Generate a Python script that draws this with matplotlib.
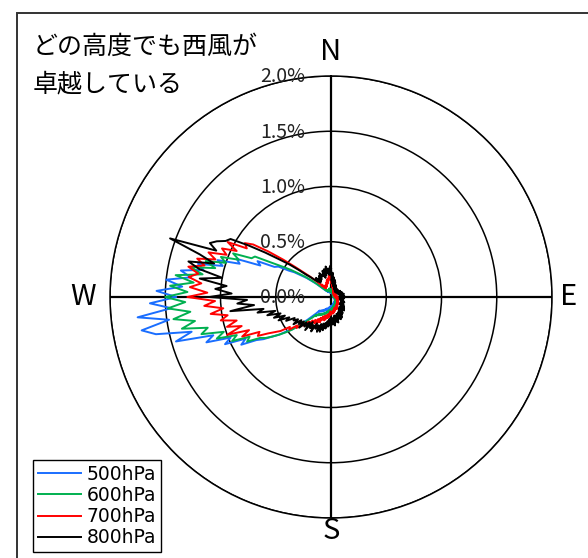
import numpy as np
import matplotlib.pyplot as plt
from matplotlib.transforms import offset_copy
from matplotlib.patches import Rectangle

plt.rcParams['font.family'] = ['Noto Sans CJK JP', 'DejaVu Sans']

# ----------------------------------------------------------------------
# data: frequency (%) per 2-degree wind direction bin, 0 = N, clockwise
# ----------------------------------------------------------------------
directions = np.arange(0, 360, 2)

freq_500 = [
    0.04, 0.06, 0.05, 0.07, 0.05, 0.06, 0.04, 0.05, 0.04, 0.05,
    0.04, 0.05, 0.03, 0.05, 0.04, 0.04, 0.03, 0.04, 0.03, 0.04,
    0.03, 0.04, 0.03, 0.04, 0.03, 0.03, 0.02, 0.03, 0.03, 0.04,
    0.03, 0.03, 0.02, 0.03, 0.03, 0.04, 0.03, 0.03, 0.02, 0.03,
    0.03, 0.04, 0.03, 0.03, 0.02, 0.03, 0.03, 0.04, 0.03, 0.03,
    0.03, 0.04, 0.03, 0.04, 0.03, 0.04, 0.04, 0.05, 0.04, 0.04,
    0.04, 0.05, 0.04, 0.05, 0.04, 0.05, 0.05, 0.06, 0.05, 0.05,
    0.05, 0.06, 0.05, 0.06, 0.06, 0.07, 0.06, 0.07, 0.06, 0.07,
    0.06, 0.07, 0.07, 0.08, 0.07, 0.08, 0.08, 0.09, 0.08, 0.09,
    0.08, 0.10, 0.09, 0.10, 0.09, 0.11, 0.10, 0.12, 0.11, 0.12,
    0.11, 0.13, 0.12, 0.14, 0.13, 0.15, 0.14, 0.16, 0.15, 0.17,
    0.16, 0.20, 0.24, 0.30, 0.36, 0.45, 0.50, 0.58, 0.64, 0.72,
    0.78, 0.92, 0.86, 1.05, 0.98, 1.20, 1.12, 1.46, 1.30, 1.62,
    1.74, 1.48, 1.76, 1.45, 1.64, 1.40, 1.58, 1.35, 1.50, 1.28,
    1.38, 1.18, 1.24, 1.02, 1.08, 0.88, 0.92, 0.70, 0.74, 0.58,
    0.55, 0.45, 0.40, 0.33, 0.28, 0.22, 0.18, 0.14, 0.11, 0.09,
    0.08, 0.07, 0.08, 0.06, 0.07, 0.05, 0.06, 0.05, 0.06, 0.05,
    0.05, 0.06, 0.04, 0.06, 0.05, 0.07, 0.05, 0.06, 0.05, 0.05,
]

freq_600 = [
    0.05, 0.07, 0.05, 0.06, 0.05, 0.06, 0.04, 0.05, 0.05, 0.04,
    0.04, 0.05, 0.04, 0.05, 0.03, 0.04, 0.04, 0.03, 0.04, 0.03,
    0.03, 0.04, 0.03, 0.03, 0.04, 0.03, 0.03, 0.02, 0.03, 0.03,
    0.03, 0.02, 0.03, 0.04, 0.03, 0.03, 0.02, 0.03, 0.03, 0.04,
    0.03, 0.03, 0.04, 0.03, 0.03, 0.02, 0.03, 0.04, 0.03, 0.04,
    0.04, 0.03, 0.04, 0.05, 0.04, 0.04, 0.05, 0.04, 0.05, 0.05,
    0.05, 0.04, 0.05, 0.06, 0.05, 0.06, 0.05, 0.06, 0.06, 0.07,
    0.06, 0.07, 0.06, 0.07, 0.07, 0.08, 0.07, 0.08, 0.08, 0.09,
    0.08, 0.09, 0.08, 0.10, 0.09, 0.10, 0.10, 0.11, 0.10, 0.12,
    0.11, 0.12, 0.12, 0.13, 0.12, 0.14, 0.13, 0.15, 0.14, 0.16,
    0.15, 0.17, 0.16, 0.18, 0.17, 0.19, 0.18, 0.20, 0.19, 0.22,
    0.21, 0.25, 0.28, 0.34, 0.38, 0.46, 0.52, 0.58, 0.64, 0.70,
    0.74, 0.86, 0.82, 0.98, 0.92, 1.10, 1.02, 1.22, 1.15, 1.38,
    1.25, 1.44, 1.28, 1.48, 1.32, 1.50, 1.30, 1.46, 1.25, 1.42,
    1.18, 1.30, 1.08, 1.18, 1.00, 1.06, 0.90, 0.97, 0.80, 0.78,
    0.62, 0.52, 0.44, 0.36, 0.30, 0.24, 0.19, 0.15, 0.12, 0.10,
    0.09, 0.08, 0.09, 0.07, 0.08, 0.06, 0.07, 0.06, 0.07, 0.06,
    0.06, 0.07, 0.05, 0.07, 0.06, 0.08, 0.06, 0.07, 0.06, 0.06,
]

freq_700 = [
    0.20, 0.12, 0.18, 0.10, 0.14, 0.08, 0.12, 0.07, 0.10, 0.06,
    0.08, 0.05, 0.07, 0.05, 0.06, 0.04, 0.06, 0.04, 0.05, 0.04,
    0.05, 0.04, 0.05, 0.03, 0.04, 0.04, 0.05, 0.03, 0.04, 0.04,
    0.04, 0.03, 0.05, 0.04, 0.04, 0.03, 0.05, 0.04, 0.04, 0.05,
    0.05, 0.04, 0.05, 0.04, 0.06, 0.04, 0.05, 0.05, 0.06, 0.04,
    0.05, 0.06, 0.05, 0.07, 0.05, 0.06, 0.07, 0.06, 0.07, 0.06,
    0.07, 0.06, 0.08, 0.07, 0.08, 0.07, 0.09, 0.08, 0.09, 0.08,
    0.09, 0.08, 0.10, 0.09, 0.11, 0.09, 0.12, 0.10, 0.12, 0.11,
    0.12, 0.10, 0.13, 0.11, 0.14, 0.12, 0.15, 0.13, 0.15, 0.14,
    0.16, 0.13, 0.18, 0.15, 0.19, 0.16, 0.20, 0.17, 0.22, 0.18,
    0.22, 0.19, 0.25, 0.21, 0.27, 0.23, 0.28, 0.25, 0.31, 0.27,
    0.32, 0.30, 0.36, 0.34, 0.42, 0.40, 0.48, 0.46, 0.55, 0.60,
    0.66, 0.75, 0.72, 0.88, 0.80, 1.00, 0.85, 0.98, 0.88, 1.02,
    0.95, 1.10, 0.98, 1.15, 1.05, 1.30, 1.12, 1.28, 1.18, 1.30,
    1.22, 1.32, 1.18, 1.26, 1.10, 1.18, 1.02, 1.08, 0.95, 1.06,
    0.88, 0.92, 0.85, 0.70, 0.55, 0.42, 0.33, 0.27, 0.22, 0.18,
    0.15, 0.12, 0.14, 0.10, 0.12, 0.09, 0.11, 0.10, 0.12, 0.10,
    0.12, 0.14, 0.12, 0.16, 0.13, 0.17, 0.15, 0.19, 0.21, 0.17,
]

freq_800 = [
    0.26, 0.15, 0.22, 0.12, 0.18, 0.10, 0.16, 0.11, 0.14, 0.09,
    0.12, 0.08, 0.11, 0.07, 0.10, 0.07, 0.09, 0.06, 0.09, 0.07,
    0.08, 0.06, 0.09, 0.07, 0.08, 0.06, 0.09, 0.07, 0.10, 0.07,
    0.09, 0.07, 0.10, 0.08, 0.11, 0.07, 0.10, 0.08, 0.12, 0.09,
    0.11, 0.08, 0.12, 0.09, 0.10, 0.08, 0.11, 0.09, 0.12, 0.08,
    0.10, 0.08, 0.11, 0.09, 0.12, 0.09, 0.13, 0.10, 0.12, 0.10,
    0.13, 0.10, 0.14, 0.10, 0.15, 0.11, 0.16, 0.12, 0.17, 0.12,
    0.16, 0.12, 0.18, 0.13, 0.19, 0.14, 0.21, 0.15, 0.22, 0.16,
    0.21, 0.16, 0.24, 0.18, 0.23, 0.17, 0.26, 0.19, 0.25, 0.20,
    0.18, 0.26, 0.20, 0.27, 0.22, 0.29, 0.24, 0.31, 0.25, 0.33,
    0.26, 0.34, 0.28, 0.32, 0.27, 0.36, 0.30, 0.34, 0.28, 0.38,
    0.30, 0.36, 0.32, 0.40, 0.33, 0.38, 0.34, 0.42, 0.36, 0.40,
    0.38, 0.46, 0.42, 0.52, 0.45, 0.55, 0.48, 0.60, 0.52, 0.68,
    0.62, 0.92, 0.70, 0.85, 0.76, 1.10, 0.90, 1.05, 0.95, 1.20,
    1.00, 1.22, 1.33, 1.10, 1.25, 1.55, 1.12, 1.20, 1.15, 1.08,
    1.05, 0.88, 0.72, 0.58, 0.48, 0.38, 0.30, 0.26, 0.22, 0.20,
    0.18, 0.22, 0.16, 0.20, 0.17, 0.22, 0.18, 0.24, 0.20, 0.22,
    0.20, 0.25, 0.18, 0.26, 0.20, 0.28, 0.22, 0.26, 0.20, 0.28,
]

series = [
    ('500hPa', freq_500, '#1a6eff'),
    ('600hPa', freq_600, '#00b050'),
    ('700hPa', freq_700, '#ff0000'),
    ('800hPa', freq_800, '#000000'),
]

ring_values = [0.0, 0.5, 1.0, 1.5, 2.0]
ring_labels = ['0.0%', '0.5%', '1.0%', '1.5%', '2.0%']
compass = [(0, 'N'), (90, 'E'), (180, 'S'), (270, 'W')]
title_lines = ['どの高度でも西風が', '卓越している']

# ----------------------------------------------------------------------
# plot
# ----------------------------------------------------------------------
fig = plt.figure(figsize=(5.88, 5.58), dpi=100)
ax = fig.add_axes([0.1871, 0.0717, 0.7517, 0.7921], projection='polar')
ax.set_theta_zero_location('N')
ax.set_theta_direction(-1)
ax.set_ylim(0, 2.0)

theta = np.deg2rad(np.append(directions, directions[0]))
for name, vals, col in series:
    r = np.append(vals, vals[0])
    ax.plot(theta, r, color=col, lw=1.4, label=name)

# grid: rings + 4 spokes
ax.set_rgrids([0.5, 1.0, 1.5, 2.0], labels=[])
ax.set_thetagrids([0, 90, 180, 270], labels=[])
ax.yaxis.grid(True, color='black', lw=1.1, ls='-')
ax.xaxis.grid(True, color='black', lw=1.6, ls='-')
ax.spines['polar'].set_color('black')
ax.spines['polar'].set_linewidth(1.1)
ax.tick_params(length=0)

# ring labels just left of the north spoke
lab_trans = offset_copy(ax.transData, fig=fig, x=-26, y=-1, units='dots')
for rv, lab in zip(ring_values, ring_labels):
    ax.text(0, rv, lab, transform=lab_trans, ha='right', va='center',
            fontsize=14, color='#222222', clip_on=False)

# compass labels
for deg, lab in compass:
    rr = {'N': 2.22, 'E': 2.15, 'S': 2.12, 'W': 2.24}[lab]
    ax.text(np.deg2rad(deg), rr, lab, ha='center', va='center',
            fontsize=21, clip_on=False)

# annotation in the top-left corner, one text per line
for i, line in enumerate(title_lines):
    fig.text(33 / 588, 1 - (47 + 37 * i) / 558, line,
             ha='left', va='center', fontsize=18)

fig.legend(loc='lower left', bbox_to_anchor=(33 / 588, 6 / 558),
           prop={'family': 'DejaVu Sans', 'size': 13.5},
           frameon=True, fancybox=False, edgecolor='black',
           framealpha=1, handlelength=2.3, handletextpad=0.3,
           labelspacing=0.12, borderpad=0.25, borderaxespad=0)

# outer frame (cut off on the right and bottom)
fig.patches.append(Rectangle((17 / 588, -0.1), 1.2, 1.1 - 13 / 558,
                             transform=fig.transFigure, fill=False,
                             edgecolor='#333333', lw=1.4))

fig.savefig('out.png', dpi=100)
